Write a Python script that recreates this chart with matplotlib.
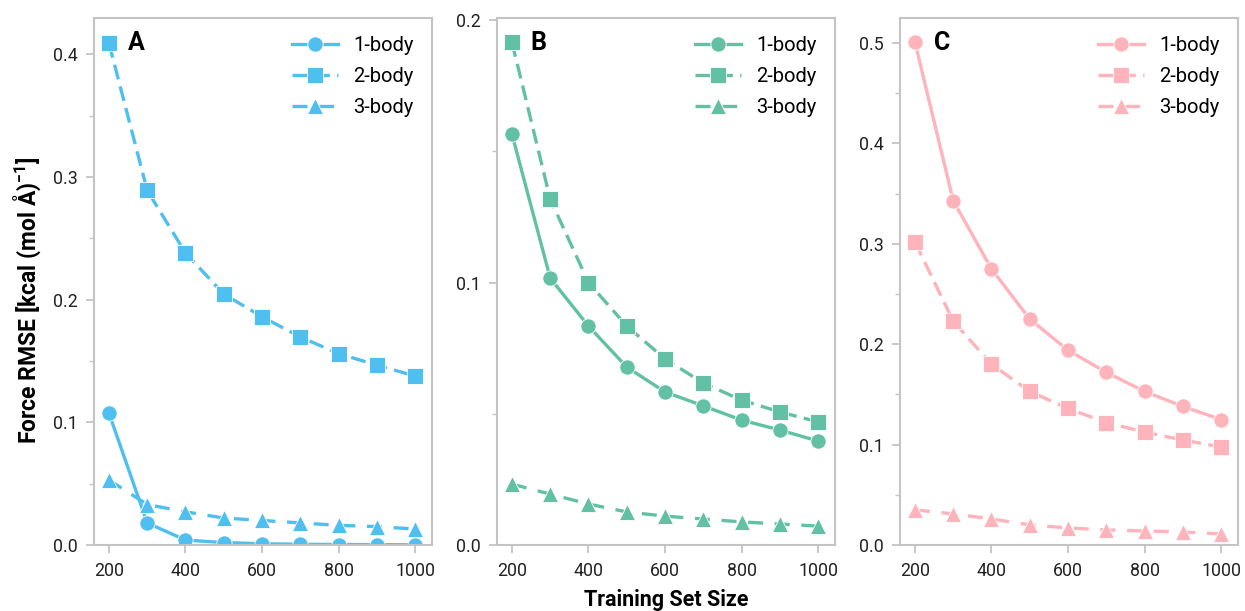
import matplotlib
matplotlib.use("Agg")
import matplotlib.pyplot as plt
from matplotlib.ticker import MultipleLocator

plt.rcParams["font.family"] = ["Roboto", "DejaVu Sans"]
plt.rcParams["mathtext.fontset"] = "custom"
plt.rcParams["mathtext.bf"] = "Roboto:bold"

sizes = [200, 300, 400, 500, 600, 700, 800, 900, 1000]

a_one = [0.1075, 0.018, 0.004, 0.002, 0.001, 0.0006, 0.0004, 0.0003, 0.0002]
a_two = [0.409, 0.289, 0.238, 0.2045, 0.186, 0.1695, 0.156, 0.1466, 0.1377]
a_three = [0.053, 0.033, 0.027, 0.022, 0.020, 0.018, 0.016, 0.015, 0.013]

b_one = [0.1566, 0.1017, 0.0834, 0.0678, 0.0583, 0.053, 0.0476, 0.0438, 0.0396]
b_two = [0.1916, 0.1318, 0.100, 0.0834, 0.0709, 0.0617, 0.0552, 0.0507, 0.0469]
b_three = [0.0232, 0.0194, 0.0156, 0.0126, 0.011, 0.0099, 0.0088, 0.008, 0.0072]

c_one = [0.501, 0.343, 0.275, 0.225, 0.194, 0.172, 0.153, 0.138, 0.125]
c_two = [0.302, 0.223, 0.180, 0.153, 0.136, 0.122, 0.1125, 0.1046, 0.0976]
c_three = [0.035, 0.031, 0.026, 0.020, 0.017, 0.015, 0.014, 0.013, 0.011]

panels = [
    ("A", "#4FBFF0", a_one, a_two, a_three, 0.4295, [0.0, 0.1, 0.2, 0.3, 0.4]),
    ("B", "#62C0A4", b_one, b_two, b_three, 0.2008, [0.0, 0.1, 0.2]),
    ("C", "#FFB3BA", c_one, c_two, c_three, 0.525, [0.0, 0.1, 0.2, 0.3, 0.4, 0.5]),
]
labels = ["1-body", "2-body", "3-body"]

fig = plt.figure(figsize=(12.45, 6.11), dpi=100)
lefts = [94, 497, 900]
W, H = 1245, 611
spine_c = "#c4c4c4"
mk = dict(lw=2.4, ms=11, mec="white", mew=0.6)

for (letter, col, one, two, three, ytop, yt), lx in zip(panels, lefts):
    ax = fig.add_axes([lx / W, (H - 545) / H, 338 / W, (545 - 18) / H])
    ax.plot(sizes, one, "-", marker="o", color=col, label=labels[0], **mk)
    ax.plot(sizes, two, "--", marker="s", color=col, dashes=(4.5, 2.2), label=labels[1], **mk)
    ax.plot(sizes, three, "--", marker="^", color=col, dashes=(4.5, 3.5), label=labels[2], **mk)
    ax.set_xlim(161, 1044)
    ax.set_ylim(0, ytop)
    ax.set_xticks([200, 400, 600, 800, 1000])
    ax.set_yticks(yt)
    ax.yaxis.set_minor_locator(MultipleLocator(0.05))
    ax.tick_params(axis="both", which="major", labelsize=12.8, color=spine_c, length=6, width=1.3,
                   pad=6, labelcolor="#222222")
    ax.tick_params(axis="y", which="minor", color=spine_c, length=3.5, width=1)
    for s in ax.spines.values():
        s.set_color(spine_c)
        s.set_linewidth(1.5)
    ax.text(0.1, 0.975, letter, transform=ax.transAxes, fontsize=18, fontweight="bold", va="top", ha="left")
    ax.legend(loc="upper right", frameon=False, fontsize=14.5, handlelength=2.3, borderaxespad=0.6,
              labelspacing=0.6, handletextpad=0.75, borderpad=0.3)

fig.text(27 / W, 1 - 300 / H, "Force RMSE [kcal (mol Å)$^{\\mathbf{-1}}$]", rotation=90,
         fontsize=16.5, fontweight="bold", ha="center", va="center")
fig.text(666 / W, 1 - 600 / H, "Training Set Size", fontsize=15.5, fontweight="bold", ha="center", va="center")

fig.savefig("out.png", dpi=100)
